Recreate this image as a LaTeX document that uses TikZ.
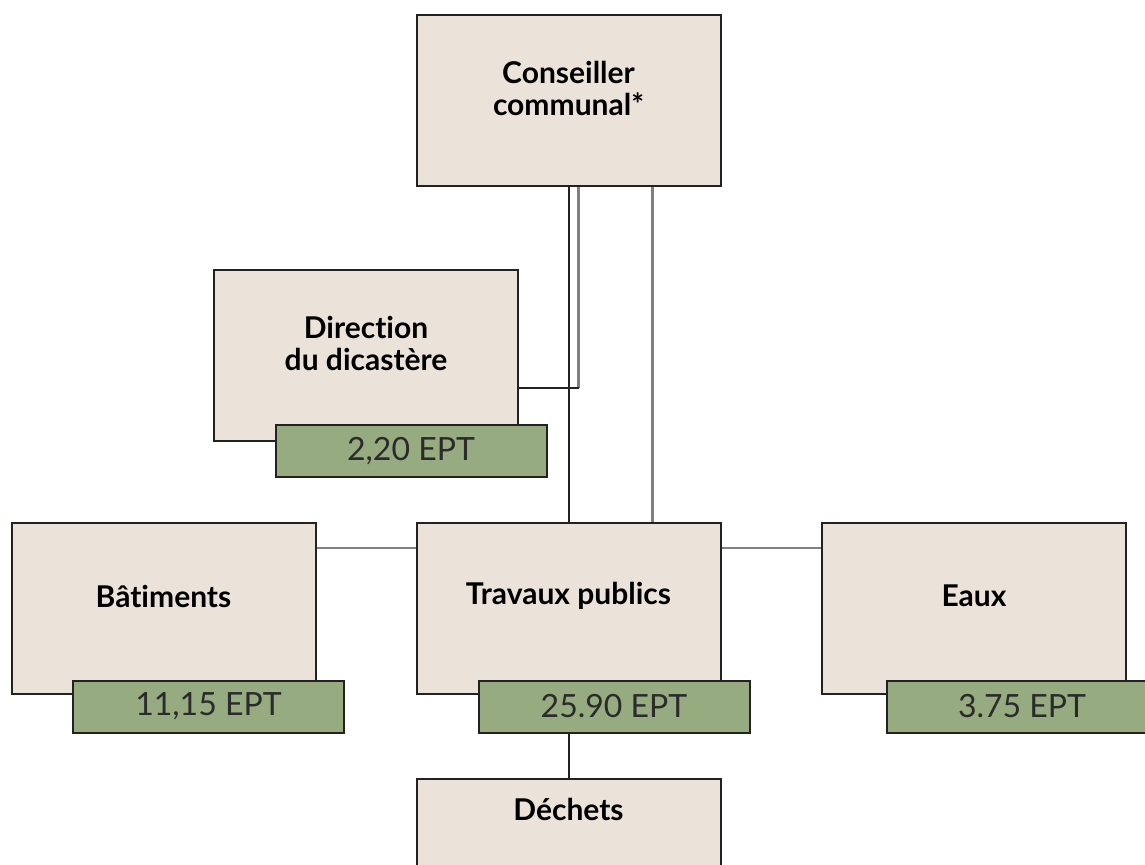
\documentclass[tikz,border=0pt]{standalone}
\usepackage{fontspec}
\setmainfont{Lato}[Ligatures={NoCommon,NoRequired}]
\usetikzlibrary{positioning}
\definecolor{unitbg}{HTML}{EBE3DA}
\definecolor{eptbg}{HTML}{96AB80}
\definecolor{eptfg}{HTML}{2B2B2B}
\definecolor{edge}{HTML}{222222}
\begin{document}
\begin{tikzpicture}[x=0.5pt,y=-0.5pt,line join=miter]
    \tikzstyle{unit} = [draw=edge,line width=1pt,fill=unitbg,
                        minimum width=152pt,minimum height=85.5pt,inner sep=0pt]
    \tikzstyle{unittext} = [font=\bfseries\fontsize{15}{16}\selectfont,
                            align=center,yshift=6pt,inner sep=0pt]
    \tikzstyle{ept} = [draw=edge,line width=1pt,fill=eptbg,text=eptfg,
                       font=\fontsize{16}{18}\selectfont,
                       minimum width=135.5pt,minimum height=26pt,inner sep=0pt]
    \tikzstyle{link} = [draw=black!50,line width=1.1pt]
    \tikzstyle{mainlink} = [draw=edge,line width=1pt]

    \useasboundingbox (0,0) rectangle (1145,864);
    \clip (0,0) rectangle (1145,864);

    % boxes
    \node[unit,label={[unittext]center:Conseiller\\communal*}] (cons) at (568.5,100) {};
    \node[unit,label={[unittext]center:Direction\\du dicastère}] (dir) at (366,355) {};
    \node[unit,label={[unittext]center:Bâtiments}] (bat) at (163.5,608) {};
    \node[unit,label={[unittext]center:Travaux publics}] (tp) at (568.5,608) {};
    \node[unit,label={[unittext]center:Eaux}] (eaux) at (974,608) {};
    \node[unit,label={[unittext,yshift=21.5pt]center:Déchets}] (dec) at (568.5,864) {};

    % connectors
    \coordinate (dirjoin) at (578.5,388);
    \draw[link] (cons.south -| dirjoin) -- (dirjoin);
    \draw[mainlink] (dirjoin) -- (dirjoin -| dir.east);
    \draw[mainlink] (cons.south) -- (tp.north);
    \draw[link] ([xshift=42pt]cons.south) -- ([xshift=42pt]tp.north);
    \draw[link] ([yshift=30pt]bat.east) -- ([yshift=30pt]tp.west);
    \draw[link] ([yshift=30pt]tp.east) -- ([yshift=30pt]eaux.west);

    % staff counts
    \node[ept] (dir-ept) at (411,451) {2,20 EPT};
    \node[ept] (bat-ept) at (208.5,706.5) {11,15 EPT};
    \node[ept] (tp-ept) at (614,706.5) {25.90 EPT};
    \node[ept] (eaux-ept) at (1022,706.5) {3.75 EPT};

    \draw[mainlink] (tp-ept.south -| tp.south) -- (dec.north);
\end{tikzpicture}
\end{document}
